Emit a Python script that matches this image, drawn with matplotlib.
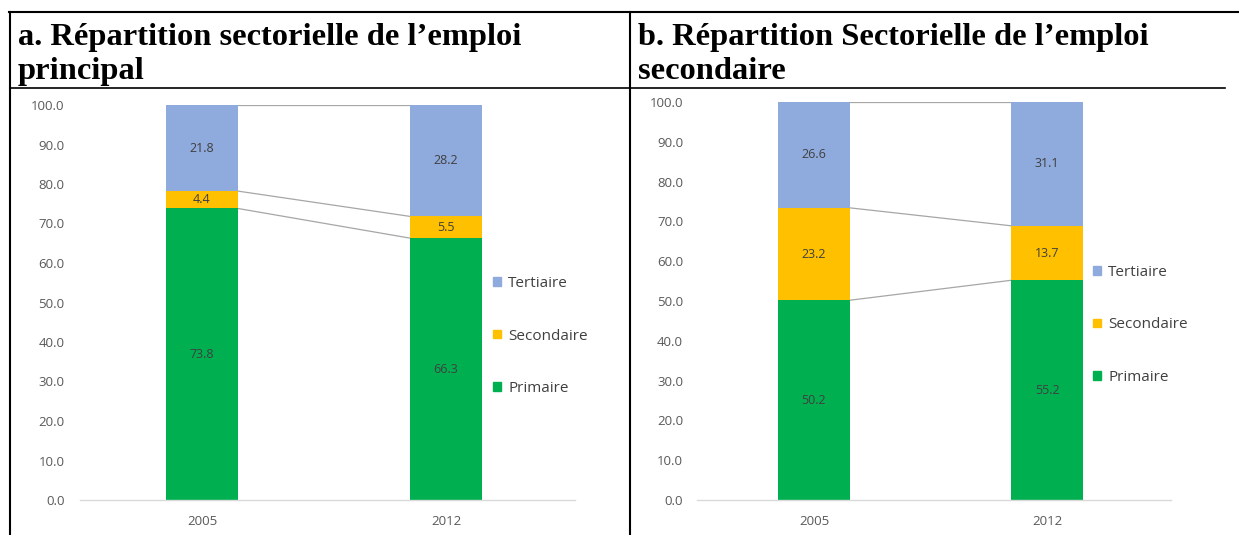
import numpy as np
import matplotlib.pyplot as plt
from matplotlib.patches import Patch
from matplotlib.lines import Line2D

# data
years = ['2005', '2012']
sectors = ['Primaire', 'Secondaire', 'Tertiaire']
colors = ['#00B050', '#FFC000', '#8FAADC']

principal_primaire = [73.8, 66.3]
principal_secondaire = [4.4, 5.5]
principal_tertiaire = [21.8, 28.2]

secondaire_primaire = [50.2, 55.2]
secondaire_secondaire = [23.2, 13.7]
secondaire_tertiaire = [26.6, 31.1]

title_a = 'a. Répartition sectorielle de l\u2019emploi\nprincipal'
title_b = 'b. Répartition Sectorielle de l\u2019emploi\nsecondaire'

W, H = 1239, 535
fig = plt.figure(figsize=(W / 100, H / 100), dpi=100)

def fx(px):
    return px / W

def fy(py):
    return 1 - py / H

# table borders
def hline(x0, x1, y, lw=1.5):
    fig.add_artist(Line2D([fx(x0), fx(x1)], [fy(y), fy(y)], color='black', lw=lw,
                          transform=fig.transFigure))

def vline(x, y0, y1, lw=1.5):
    fig.add_artist(Line2D([fx(x), fx(x)], [fy(y0), fy(y1)], color='black', lw=lw,
                          transform=fig.transFigure))

hline(9, 1239, 12)
hline(10, 630, 88, lw=1.2)
hline(630, 1225, 88, lw=1.2)
vline(10, 12, 535)
vline(630, 12, 535)

fig.text(fx(18), fy(23.5), title_a, fontsize=23.4, fontweight='bold', family='Liberation Serif',
         va='top', ha='left', linespacing=1.22)
fig.text(fx(638), fy(23.5), title_b, fontsize=23.4, fontweight='bold', family='Liberation Serif',
         va='top', ha='left', linespacing=1.22)

tick_col = '#595959'
lab_col = '#404040'


def stacked(rect, xlim, width, prim, sec, ter, pad_y, legend_pos):
    ax = fig.add_axes(rect)
    x = np.arange(len(years))
    series = [np.array(prim), np.array(sec), np.array(ter)]
    bottom = np.zeros(len(years))
    tops = []
    for vals, col in zip(series, colors):
        ax.bar(x, vals, width, bottom=bottom, color=col, zorder=2)
        for xi, b, v in zip(x, bottom, vals):
            ax.text(xi, b + v / 2, f'{v:.1f}', ha='center', va='center', fontsize=9,
                    color=lab_col, family='Open Sans', zorder=3)
        bottom = bottom + vals
        tops.append(bottom.copy())
    # series lines between bars
    for t in tops:
        ax.plot([x[0] + width / 2, x[1] - width / 2], [t[0], t[1]], color='#A6A6A6',
                lw=0.9, zorder=1)
    ax.set_xlim(*xlim)
    ax.set_ylim(0, 100)
    ax.set_yticks(np.arange(0, 101, 10))
    ax.set_yticklabels([f'{v:.1f}' for v in np.arange(0, 101, 10)])
    ax.set_xticks(x)
    ax.set_xticklabels(years)
    for s in ['top', 'right', 'left']:
        ax.spines[s].set_visible(False)
    ax.spines['bottom'].set_color('#D9D9D9')
    ax.spines['bottom'].set_linewidth(1.0)
    ax.tick_params(axis='y', length=0, pad=pad_y, labelsize=9.5, labelcolor=tick_col)
    ax.tick_params(axis='x', length=0, pad=11, labelsize=9.5, labelcolor=tick_col)
    for lab in ax.get_xticklabels() + ax.get_yticklabels():
        lab.set_family('Open Sans')
    handles = [Patch(color=c, label=s) for c, s in zip(colors[::-1], sectors[::-1])]
    ax.legend(handles=handles, loc='center left', bbox_to_anchor=legend_pos,
              bbox_transform=fig.transFigure, frameon=False, borderpad=0,
              borderaxespad=0, handlelength=0.5, handleheight=0.5,
              handletextpad=0.5, labelspacing=2.45,
              prop={'family': 'Open Sans', 'size': 11}, labelcolor='#404040')
    return ax


stacked([fx(80), fy(500), fx(495), (500 - 105) / H], (-0.5, 1.529), 0.295,
        principal_primaire, principal_secondaire, principal_tertiaire, 11,
        (fx(493), fy(336)))
stacked([fx(697), fy(500), fx(474), (500 - 102) / H], (-0.502, 1.532), 0.309,
        secondaire_primaire, secondaire_secondaire, secondaire_tertiaire, 10,
        (fx(1093), fy(325)))

fig.savefig('out.png', dpi=100)
